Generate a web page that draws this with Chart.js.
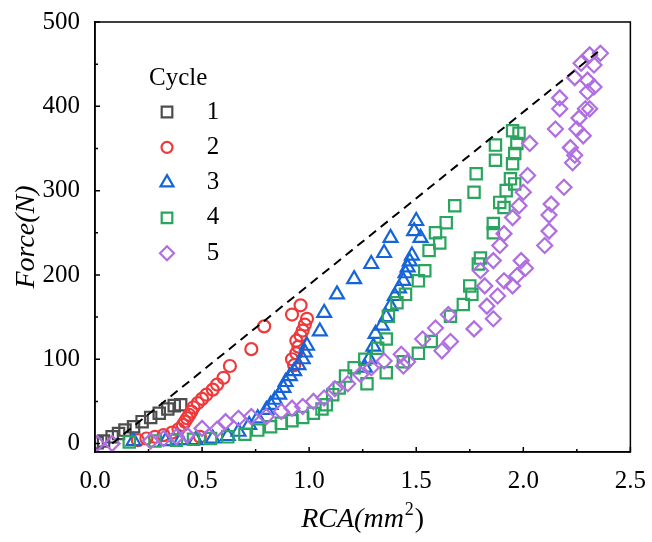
<!DOCTYPE html>
<html>
<head>
<meta charset="utf-8">
<script src="https://cdn.jsdelivr.net/npm/chart.js@4.4.0/dist/chart.umd.min.js"></script>
<style>
  html, body { margin: 0; padding: 0; background: #fff; }
</style>
</head>
<body>
<canvas id="ForceRca" width="652" height="542"></canvas>
<script>
// valores
var ciclos = ['1', '2', '3', '4', '5'];

var rca1 = [0.01, 0.04, 0.08, 0.11, 0.14, 0.18, 0.22, 0.26, 0.30, 0.34, 0.37, 0.40];
var forca1 = [1, 3, 8, 12, 16, 20, 26, 31, 36, 41, 45, 46];

var rca2 = [0.20, 0.24, 0.28, 0.32, 0.36, 0.39, 0.41, 0.42, 0.43, 0.44,
            0.45, 0.46, 0.48, 0.50, 0.52, 0.55, 0.57, 0.60, 0.63, 0.73,
            0.79, 0.93, 0.92, 0.94, 0.95, 0.94, 0.96, 0.97, 0.98, 0.99,
            0.92, 0.96, 0.49];
var forca2 = [4, 6, 8, 10, 13, 17, 22, 26, 30, 34,
              38, 43, 48, 53, 58, 64, 70, 78, 92, 112,
              139, 93, 100, 107, 115, 122, 128, 134, 141, 148,
              153, 164, 8];

var rca3 = [0.18, 0.33, 0.40, 0.47, 0.55, 0.62, 0.67, 0.72, 0.76, 0.80,
            0.82, 0.84, 0.86, 0.88, 0.89, 0.91, 0.93, 0.95, 0.97, 0.98,
            0.99, 1.05, 1.07, 1.13, 1.21, 1.29, 1.35, 1.38, 1.49, 1.50,
            1.52, 1.48, 1.47, 1.46, 1.45, 1.44, 1.42, 1.40, 1.38, 1.36,
            1.34, 1.31, 1.30, 1.28, 1.26];
var forca3 = [3, 3, 4, 4, 6, 9, 14, 22, 30, 40,
              46, 52, 58, 66, 73, 80, 86, 93, 100, 108,
              116, 133, 155, 177, 195, 213, 226, 244, 252, 264,
              244, 223, 216, 209, 202, 193, 184, 175, 163, 150,
              140, 130, 115, 100, 90];

var rca4 = [0.16, 0.28, 0.38, 0.46, 0.54, 0.62, 0.70, 0.76, 0.82, 0.87,
            0.92, 0.97, 1.02, 1.06, 1.08, 1.11, 1.14, 1.17, 1.21, 1.26,
            1.32, 1.36, 1.37, 1.41, 1.45, 1.51, 1.54, 1.56, 1.59, 1.61,
            1.64, 1.68, 1.77, 1.78, 1.87, 1.87, 1.95, 1.98, 1.97, 1.96,
            1.95, 1.94, 1.96, 1.92, 1.89, 1.91, 1.86, 1.86, 1.80, 1.79,
            1.75, 1.76, 1.72, 1.66, 1.57, 1.51, 1.44, 1.36, 1.27];
var forca4 = [2, 3, 4, 5, 6, 8, 11, 16, 20, 24,
              27, 31, 36, 41, 46, 58, 66, 80, 90, 100,
              113, 124, 151, 167, 177, 193, 205, 229, 250, 238,
              262, 282, 298, 320, 336, 354, 371, 368, 356, 344,
              332, 314, 308, 300, 286, 280, 261, 250, 220, 213,
              187, 177, 165, 151, 121, 107, 97, 84, 71];

var rca5 = [0.01, 0.08, 0.26, 0.32, 0.38, 0.43, 0.50, 0.57, 0.61, 0.67,
            0.73, 0.80, 0.87, 0.92, 0.97, 1.02, 1.07, 1.12, 1.18, 1.24,
            1.29, 1.35, 1.43, 1.44, 1.46, 1.53, 1.59, 1.62, 1.66, 1.65,
            1.77, 1.80, 1.82, 1.83, 1.86, 1.86, 1.88, 1.89, 1.91, 1.91,
            1.95, 1.95, 1.97, 1.98, 1.99, 2.00, 2.01, 2.02, 2.03, 2.10,
            2.12, 2.12, 2.13, 2.15, 2.17, 2.17, 2.19, 2.22, 2.23, 2.24,
            2.24, 2.25, 2.26, 2.27, 2.28, 2.29, 2.30, 2.30, 2.31, 2.31,
            2.33, 2.33, 2.36];
var forca5 = [0, 0, 3, 6, 8, 10, 18, 17, 26, 30,
              32, 32, 38, 42, 44, 50, 54, 65, 71, 82,
              90, 98, 106, 92, 97, 124, 137, 110, 121, 153,
              136, 205, 187, 163, 148, 217, 175, 235, 193, 249,
              187, 268, 199, 282, 217, 298, 208, 318, 356, 235,
              252, 271, 284, 373, 397, 410, 304, 351, 333, 342,
              434, 373, 386, 451, 365, 397, 417, 431, 397, 461,
              423, 449, 463];

// linha tracejada
var linhaX = [0.08, 2.36];
var linhaY = [0, 467];

var ticksX = [0, 0.5, 1.0, 1.5, 2.0, 2.5];
var ticksY = [0, 100, 200, 300, 400, 500];

var cores = ['#4d4d4d', '#f0393b', '#1565d8', '#2aa55e', '#b06fe0'];
var formas = ['rect', 'circle', 'triangle', 'rect', 'rectRot'];
var raios = [8, 6, 8, 8, 7.5];

function pares(xs, ys) {
    var out = [];
    for (var i = 0; i < xs.length; i++) out.push({ x: xs[i], y: ys[i] });
    return out;
}

var rcas = [rca1, rca2, rca3, rca4, rca5];
var forcas = [forca1, forca2, forca3, forca4, forca5];

var conjuntos = ciclos.map(function (c, i) {
    return {
        label: c,
        data: pares(rcas[i], forcas[i]),
        pointStyle: formas[i],
        pointRadius: raios[i],
        pointHoverRadius: raios[i],
        pointBorderWidth: 2.2,
        borderColor: cores[i],
        backgroundColor: 'rgba(0,0,0,0)',
        showLine: false,
        order: 5 - i
    };
});

conjuntos.push({
    label: 'linha',
    data: pares(linhaX, linhaY),
    showLine: true,
    borderColor: '#000',
    borderWidth: 2,
    borderDash: [9, 6],
    pointRadius: 0,
    order: 0
});

var fonte = 'Liberation Serif, Times New Roman, serif';

// moldura, ticks para dentro, legenda e titulo do eixo x
var moldura = {
    id: 'moldura',
    afterDraw: function (chart) {
        var ctx = chart.ctx;
        var a = chart.chartArea;
        var sx = chart.scales.x, sy = chart.scales.y;
        ctx.save();
        ctx.strokeStyle = '#000';
        ctx.lineWidth = 1.5;
        ctx.strokeRect(a.left, a.top, a.right - a.left, a.bottom - a.top);

        ctx.beginPath();
        for (var v = 0; v <= 2.5001; v += 0.25) {
            var px = sx.getPixelForValue(v);
            var major = Math.abs(v / 0.5 - Math.round(v / 0.5)) < 0.01;
            ctx.moveTo(px, a.bottom);
            ctx.lineTo(px, a.bottom - (major ? 5 : 3));
        }
        for (var w = 0; w <= 500; w += 50) {
            var py = sy.getPixelForValue(w);
            ctx.moveTo(a.left, py);
            ctx.lineTo(a.left + (w % 100 === 0 ? 5 : 3), py);
        }
        ctx.stroke();

        // legenda
        ctx.fillStyle = '#000';
        ctx.font = '25px ' + fonte;
        ctx.textBaseline = 'middle';
        ctx.textAlign = 'left';
        ctx.fillText('Cycle', 149, 78);
        ctx.textAlign = 'center';
        for (var i = 0; i < ciclos.length; i++) {
            var yy = 112 + i * 35.3;
            ctx.strokeStyle = cores[i];
            ctx.fillStyle = 'rgba(0,0,0,0)';
            ctx.lineWidth = 2.2;
            Chart.helpers.drawPoint(ctx, { pointStyle: formas[i], radius: raios[i] - 0.5, borderWidth: 2.2, rotation: 0 }, 167, yy);
            ctx.fillStyle = '#000';
            ctx.fillText(ciclos[i], 213, yy);
        }

        // titulo x com expoente
        var cx = (a.left + a.right) / 2;
        var base = 527;
        ctx.textBaseline = 'alphabetic';
        ctx.textAlign = 'left';
        ctx.font = 'italic 28px ' + fonte;
        var p1 = 'RCA(mm';
        var w1 = ctx.measureText(p1).width;
        ctx.font = '18px ' + fonte;
        var w2 = ctx.measureText('2').width;
        ctx.font = '28px ' + fonte;
        var w3 = ctx.measureText(')').width;
        var x0 = cx - (w1 + w2 + w3 + 2) / 2;
        ctx.font = 'italic 28px ' + fonte;
        ctx.fillText(p1, x0, base);
        ctx.font = '18px ' + fonte;
        ctx.fillText('2', x0 + w1 + 1, base - 12);
        ctx.font = '28px ' + fonte;
        ctx.fillText(')', x0 + w1 + w2 + 2, base);
        ctx.restore();
    }
};

var grafico = new Chart(document.getElementById('ForceRca').getContext('2d'), {
    type: 'scatter',
    data: { datasets: conjuntos },
    options: {
        responsive: false,
        animation: false,
        layout: { padding: { top: 20, right: 19, left: 0, bottom: 0 } },
        plugins: {
            legend: { display: false },
            tooltip: { enabled: false }
        },
        scales: {
            x: {
                type: 'linear',
                min: 0,
                max: 2.5,
                afterBuildTicks: function (axis) {
                    axis.ticks = ticksX.map(function (v) { return { value: v }; });
                },
                afterFit: function (axis) { axis.height = 90; },
                ticks: {
                    color: '#000',
                    font: { family: fonte, size: 25 },
                    padding: 6,
                    maxRotation: 0,
                    callback: function (v) { return v.toFixed(1); }
                },
                grid: { display: false },
                border: { display: true, color: '#000', width: 1.5 },
                title: { display: false }
            },
            y: {
                type: 'linear',
                min: -10,
                max: 500,
                afterBuildTicks: function (axis) {
                    axis.ticks = ticksY.map(function (v) { return { value: v }; });
                },
                afterFit: function (axis) { axis.width = 95; },
                ticks: {
                    color: '#000',
                    font: { family: fonte, size: 25 },
                    padding: 7
                },
                grid: { display: false },
                border: { display: true, color: '#000', width: 1.5 },
                title: {
                    display: true,
                    text: 'Force(N)',
                    color: '#000',
                    font: { family: fonte, size: 28, style: 'italic' },
                    padding: { top: 10, bottom: 0 }
                }
            }
        }
    },
    plugins: [moldura]
});
</script>
</body>
</html>
